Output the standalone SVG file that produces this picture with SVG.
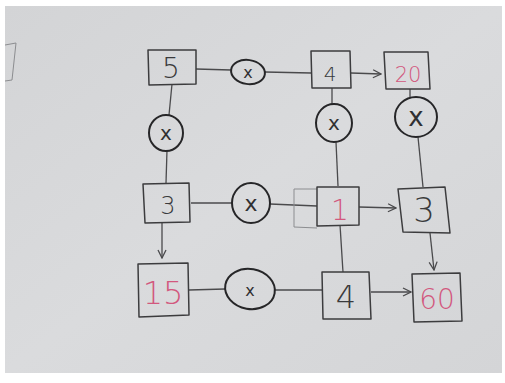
<svg xmlns="http://www.w3.org/2000/svg" width="505" height="383" viewBox="0 0 505 383">
  <defs>
    <linearGradient id="paper" x1="0" y1="0" x2="1" y2="1">
      <stop offset="0" stop-color="#d3d4d6"/>
      <stop offset="0.5" stop-color="#dadbdd"/>
      <stop offset="1" stop-color="#d4d5d7"/>
    </linearGradient>
    <marker id="chev" viewBox="0 0 10 10" refX="9" refY="5" markerWidth="10" markerHeight="10" markerUnits="userSpaceOnUse" orient="auto">
      <path d="M1,1 L9,5 L1,9" fill="none" stroke="#4a4a4c" stroke-width="1.3"/>
    </marker>
    <style>
      .box { fill: none; stroke: #3c3c3e; stroke-width: 1.5; stroke-linejoin: round; }
      .light { fill: none; stroke: #8c8d90; stroke-width: 1; }
      .oval { fill: none; stroke: #262628; stroke-width: 2; }
      .wire { fill: none; stroke: #4a4a4c; stroke-width: 1.3; }
      .num { font-family: "DejaVu Sans", sans-serif; font-weight: 300; text-anchor: middle; fill: #3a3a3c; }
      .red { fill: #d2587e; }
      .op { font-family: "DejaVu Sans", sans-serif; text-anchor: middle; fill: #303032; }
    </style>
  </defs>

  <!-- sheet of paper with a white margin -->
  <rect x="0" y="0" width="505" height="383" fill="#ffffff"/>
  <rect x="5" y="6" width="497" height="367" fill="url(#paper)"/>
  <!-- edge of a box cut off at the left -->
  <path class="light" d="M5,45 L16,43 L12,80 L5,81" stroke="#7c7d80"/>

  <!-- connectors -->
  <g id="connectors">
    <path class="wire" d="M196,69 L231,70"/>
    <path class="wire" d="M265,72 L311,73"/>
    <path class="wire" d="M351,73 L381,74" marker-end="url(#chev)"/>
    <path class="wire" d="M172,84 L169,115"/>
    <path class="wire" d="M167,150 L166,183"/>
    <path class="wire" d="M162,223 L162,258" marker-end="url(#chev)"/>
    <path class="wire" d="M332,88 L332,104"/>
    <path class="wire" d="M336,142 L338,186"/>
    <path class="wire" d="M340,225 L343,272"/>
    <path class="wire" d="M410,89 L410,97"/>
    <path class="wire" d="M418,137 L423,187"/>
    <path class="wire" d="M430,233 L434,270" marker-end="url(#chev)"/>
    <path class="wire" d="M191,203 L232,203"/>
    <path class="wire" d="M270,204 L317,206"/>
    <path class="wire" d="M359,207 L396,208" marker-end="url(#chev)" stroke="#6a6b6e"/>
    <path class="wire" d="M189,290 L225,289"/>
    <path class="wire" d="M275,290 L322,290"/>
    <path class="wire" d="M371,292 L411,292" marker-end="url(#chev)"/>
  </g>

  <!-- top row -->
  <g id="n5">
    <path class="box" d="M148,50 L196,50 L196,84 L149,85 Z"/>
    <text class="num" x="171" y="78" font-size="28">5</text>
  </g>
  <g id="m1">
    <ellipse class="oval" cx="248" cy="72" rx="17" ry="12" transform="rotate(8 248 72)"/>
    <text class="op" x="248" y="78" font-size="16">x</text>
  </g>
  <g id="n4a">
    <path class="box" d="M311,51 L350,51 L351,88 L312,88 Z"/>
    <text class="num" x="330" y="81" font-size="20">4</text>
  </g>
  <g id="n20">
    <path class="box" d="M384,52 L428,52 L430,89 L386,89 Z"/>
    <text class="num red" x="408" y="82" font-size="21">20</text>
  </g>

  <!-- vertical multipliers -->
  <g id="m2">
    <ellipse class="oval" cx="166" cy="133" rx="17" ry="18"/>
    <text class="op" x="166" y="140" font-size="20">x</text>
  </g>
  <g id="m3">
    <ellipse class="oval" cx="334" cy="123" rx="18" ry="19"/>
    <text class="op" x="334" y="130" font-size="20">x</text>
  </g>
  <g id="m4">
    <ellipse class="oval" cx="416" cy="117" rx="21" ry="20"/>
    <text class="op" x="416" y="126" font-size="26">x</text>
  </g>

  <!-- middle row -->
  <g id="n3">
    <path class="box" d="M143,184 L189,183 L190,222 L145,223 Z"/>
    <text class="num" x="168" y="214" font-size="24">3</text>
  </g>
  <g id="m5">
    <ellipse class="oval" cx="251" cy="203" rx="19" ry="20"/>
    <text class="op" x="251" y="211" font-size="22">x</text>
  </g>
  <g id="n1">
    <path class="light" d="M317,189 L294,189 L294,227 L317,228"/>
    <path class="box" d="M317,187 L359,187 L359,225 L317,226 Z" stroke="#2a2a2c"/>
    <text class="num red" x="340" y="220" font-size="28">1</text>
  </g>
  <g id="n3b">
    <path class="box" d="M398,189 L445,187 L450,233 L403,232 Z" stroke="#2a2a2c"/>
    <text class="num" x="424" y="222" font-size="34">3</text>
  </g>

  <!-- bottom row -->
  <g id="n15">
    <path class="box" d="M138,264 L188,263 L189,315 L139,317 Z"/>
    <text class="num red" x="163" y="304" font-size="32">15</text>
  </g>
  <g id="m6">
    <ellipse class="oval" cx="250" cy="289" rx="25" ry="20" transform="rotate(10 250 289)"/>
    <text class="op" x="250" y="296" font-size="16">x</text>
  </g>
  <g id="n4b">
    <path class="box" d="M322,272 L369,272 L371,319 L323,319 Z"/>
    <text class="num" x="346" y="308" font-size="32">4</text>
  </g>
  <g id="n60">
    <path class="box" d="M412,274 L460,273 L462,321 L414,322 Z"/>
    <text class="num red" x="437" y="309" font-size="28">60</text>
  </g>
</svg>
